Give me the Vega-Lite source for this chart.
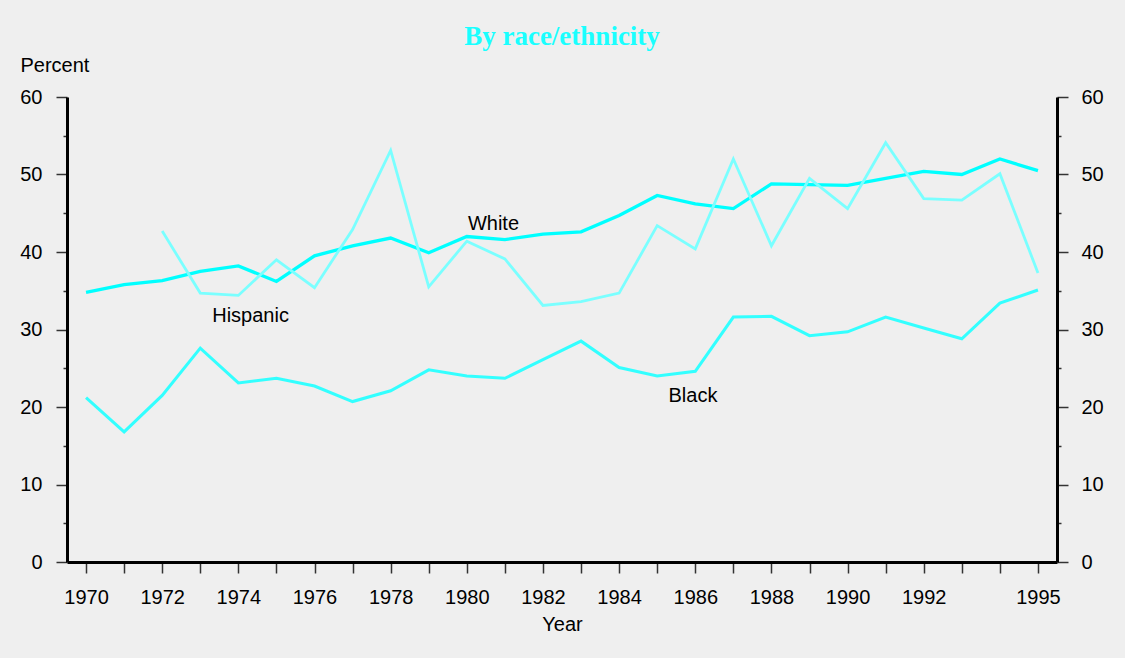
{
  "$schema": "https://vega.github.io/schema/vega-lite/v6.json",
  "width": 990,
  "height": 465,
  "autosize": {"type": "none"},
  "padding": {"left": 67, "top": 97, "right": 68, "bottom": 96},
  "background": "#efefef",
  "title": {
    "text": "By race/ethnicity",
    "font": "Liberation Serif",
    "fontSize": 27,
    "fontWeight": "bold",
    "color": "#1affff",
    "anchor": "middle",
    "frame": "group",
    "baseline": "alphabetic",
    "offset": -17
  },
  "config": {
    "view": {"stroke": null},
    "font": "Liberation Sans",
    "axis": {
      "domainColor": "#000000",
      "domainWidth": 3,
      "tickColor": "#333333",
      "tickWidth": 1.5,
      "labelFont": "Liberation Sans",
      "labelFontSize": 20,
      "labelColor": "#000000",
      "titleFont": "Liberation Sans",
      "titleFontSize": 20,
      "titleFontWeight": "normal",
      "titleColor": "#000000",
      "grid": false
    },
    "axisX": {"labelOverlap": false, "labelFlush": false},
    "axisQuantitative": {"labelOverlap": false}
  },
  "datasets": {
    "rates": [
      {"series": "White", "year": 1970, "value": 34.8},
      {"series": "White", "year": 1971, "value": 35.8},
      {"series": "White", "year": 1972, "value": 36.3},
      {"series": "White", "year": 1973, "value": 37.5},
      {"series": "White", "year": 1974, "value": 38.2},
      {"series": "White", "year": 1975, "value": 36.2},
      {"series": "White", "year": 1976, "value": 39.5},
      {"series": "White", "year": 1977, "value": 40.8},
      {"series": "White", "year": 1978, "value": 41.8},
      {"series": "White", "year": 1979, "value": 39.9},
      {"series": "White", "year": 1980, "value": 42.0},
      {"series": "White", "year": 1981, "value": 41.6},
      {"series": "White", "year": 1982, "value": 42.3},
      {"series": "White", "year": 1983, "value": 42.6},
      {"series": "White", "year": 1984, "value": 44.7},
      {"series": "White", "year": 1985, "value": 47.3},
      {"series": "White", "year": 1986, "value": 46.2},
      {"series": "White", "year": 1987, "value": 45.6},
      {"series": "White", "year": 1988, "value": 48.8},
      {"series": "White", "year": 1989, "value": 48.7},
      {"series": "White", "year": 1990, "value": 48.6},
      {"series": "White", "year": 1991, "value": 49.5},
      {"series": "White", "year": 1992, "value": 50.4},
      {"series": "White", "year": 1993, "value": 50.0},
      {"series": "White", "year": 1994, "value": 52.0},
      {"series": "White", "year": 1995, "value": 50.5},
      {"series": "Black", "year": 1970, "value": 21.2},
      {"series": "Black", "year": 1971, "value": 16.8},
      {"series": "Black", "year": 1972, "value": 21.5},
      {"series": "Black", "year": 1973, "value": 27.6},
      {"series": "Black", "year": 1974, "value": 23.1},
      {"series": "Black", "year": 1975, "value": 23.7},
      {"series": "Black", "year": 1976, "value": 22.7},
      {"series": "Black", "year": 1977, "value": 20.7},
      {"series": "Black", "year": 1978, "value": 22.1},
      {"series": "Black", "year": 1979, "value": 24.8},
      {"series": "Black", "year": 1980, "value": 24.0},
      {"series": "Black", "year": 1981, "value": 23.7},
      {"series": "Black", "year": 1982, "value": 26.1},
      {"series": "Black", "year": 1983, "value": 28.5},
      {"series": "Black", "year": 1984, "value": 25.1},
      {"series": "Black", "year": 1985, "value": 24.0},
      {"series": "Black", "year": 1986, "value": 24.6},
      {"series": "Black", "year": 1987, "value": 31.6},
      {"series": "Black", "year": 1988, "value": 31.7},
      {"series": "Black", "year": 1989, "value": 29.2},
      {"series": "Black", "year": 1990, "value": 29.7},
      {"series": "Black", "year": 1991, "value": 31.6},
      {"series": "Black", "year": 1992, "value": 30.2},
      {"series": "Black", "year": 1993, "value": 28.8},
      {"series": "Black", "year": 1994, "value": 33.4},
      {"series": "Black", "year": 1995, "value": 35.1},
      {"series": "Hispanic", "year": 1972, "value": 42.7},
      {"series": "Hispanic", "year": 1973, "value": 34.7},
      {"series": "Hispanic", "year": 1974, "value": 34.4},
      {"series": "Hispanic", "year": 1975, "value": 39.0},
      {"series": "Hispanic", "year": 1976, "value": 35.4},
      {"series": "Hispanic", "year": 1977, "value": 42.9},
      {"series": "Hispanic", "year": 1978, "value": 53.1},
      {"series": "Hispanic", "year": 1979, "value": 35.5},
      {"series": "Hispanic", "year": 1980, "value": 41.4},
      {"series": "Hispanic", "year": 1981, "value": 39.1},
      {"series": "Hispanic", "year": 1982, "value": 33.1},
      {"series": "Hispanic", "year": 1983, "value": 33.6},
      {"series": "Hispanic", "year": 1984, "value": 34.7},
      {"series": "Hispanic", "year": 1985, "value": 43.4},
      {"series": "Hispanic", "year": 1986, "value": 40.4},
      {"series": "Hispanic", "year": 1987, "value": 52.0},
      {"series": "Hispanic", "year": 1988, "value": 40.8},
      {"series": "Hispanic", "year": 1989, "value": 49.5},
      {"series": "Hispanic", "year": 1990, "value": 45.6},
      {"series": "Hispanic", "year": 1991, "value": 54.1},
      {"series": "Hispanic", "year": 1992, "value": 46.9},
      {"series": "Hispanic", "year": 1993, "value": 46.7},
      {"series": "Hispanic", "year": 1994, "value": 50.1},
      {"series": "Hispanic", "year": 1995, "value": 37.3}
    ],
    "labels": [
      {"label": "White", "year": 1980.7, "value": 42.84},
      {"label": "Hispanic", "year": 1974.32, "value": 30.93},
      {"label": "Black", "year": 1985.94, "value": 20.68}
    ]
  },
  "layer": [
    {
      "data": {"name": "rates"},
      "mark": {"type": "line", "interpolate": "linear"},
      "encoding": {
        "x": {
          "field": "year",
          "type": "quantitative",
          "scale": {"domain": [1969.5, 1995.5], "nice": false, "zero": false},
          "axis": {
            "values": [1970,1971,1972,1973,1974,1975,1976,1977,1978,1979,1980,1981,1982,1983,1984,1985,1986,1987,1988,1989,1990,1991,1992,1993,1994,1995],
            "format": "d",
            "labelExpr": "indexof(['1970','1972','1974','1976','1978','1980','1982','1984','1986','1988','1990','1992','1995'], datum.label) >= 0 ? datum.label : ''",
            "labelOverlap": false,
            "labelFlush": false,
            "tickSize": 11,
            "labelPadding": 14,
            "title": "Year",
            "titlePadding": 7
          }
        },
        "y": {
          "field": "value",
          "type": "quantitative",
          "scale": {"domain": [0, 60], "nice": false},
          "axis": {
            "orient": "left",
            "values": [0,5,10,15,20,25,30,35,40,45,50,55,60],
            "tickSize": {"condition": {"test": "datum.value % 10 === 0", "value": 11}, "value": 4},
            "labelExpr": "datum.value % 10 === 0 ? datum.label : ''",
            "labelOverlap": false,
            "labelFlush": false,
            "labelPadding": 14,
            "title": "Percent",
            "titleAngle": 0,
            "titleAlign": "left",
            "titleBaseline": "alphabetic",
            "titleX": -47,
            "titleY": -26
          }
        },
        "color": {
          "field": "series",
          "type": "nominal",
          "scale": {"domain": ["Hispanic", "Black", "White"], "range": ["#7affff", "#33ffff", "#00ffff"]},
          "legend": null
        },
        "strokeWidth": {
          "field": "series",
          "type": "nominal",
          "scale": {"domain": ["Hispanic", "Black", "White"], "range": [2.8, 3.3, 3.8]},
          "legend": null
        }
      }
    },
    {
      "data": {"name": "labels"},
      "mark": {"type": "text", "font": "Liberation Sans", "fontSize": 20, "color": "#000000", "align": "center", "baseline": "alphabetic"},
      "encoding": {
        "x": {
          "field": "year",
          "type": "quantitative",
          "axis": {
            "values": [1970,1971,1972,1973,1974,1975,1976,1977,1978,1979,1980,1981,1982,1983,1984,1985,1986,1987,1988,1989,1990,1991,1992,1993,1994,1995],
            "format": "d",
            "labelExpr": "indexof(['1970','1972','1974','1976','1978','1980','1982','1984','1986','1988','1990','1992','1995'], datum.label) >= 0 ? datum.label : ''",
            "labelOverlap": false,
            "labelFlush": false,
            "tickSize": 11,
            "labelPadding": 14,
            "title": "Year",
            "titlePadding": 7
          }
        },
        "y": {
          "field": "value",
          "type": "quantitative",
          "scale": {"domain": [0, 60], "nice": false},
          "axis": {
            "orient": "right",
            "values": [0,5,10,15,20,25,30,35,40,45,50,55,60],
            "tickSize": {"condition": {"test": "datum.value % 10 === 0", "value": 11}, "value": 4},
            "labelExpr": "datum.value % 10 === 0 ? datum.label : ''",
            "labelOverlap": false,
            "labelFlush": false,
            "labelPadding": 13,
            "title": null
          }
        },
        "text": {"field": "label", "type": "nominal"}
      }
    }
  ],
  "resolve": {"scale": {"y": "independent"}}
}
